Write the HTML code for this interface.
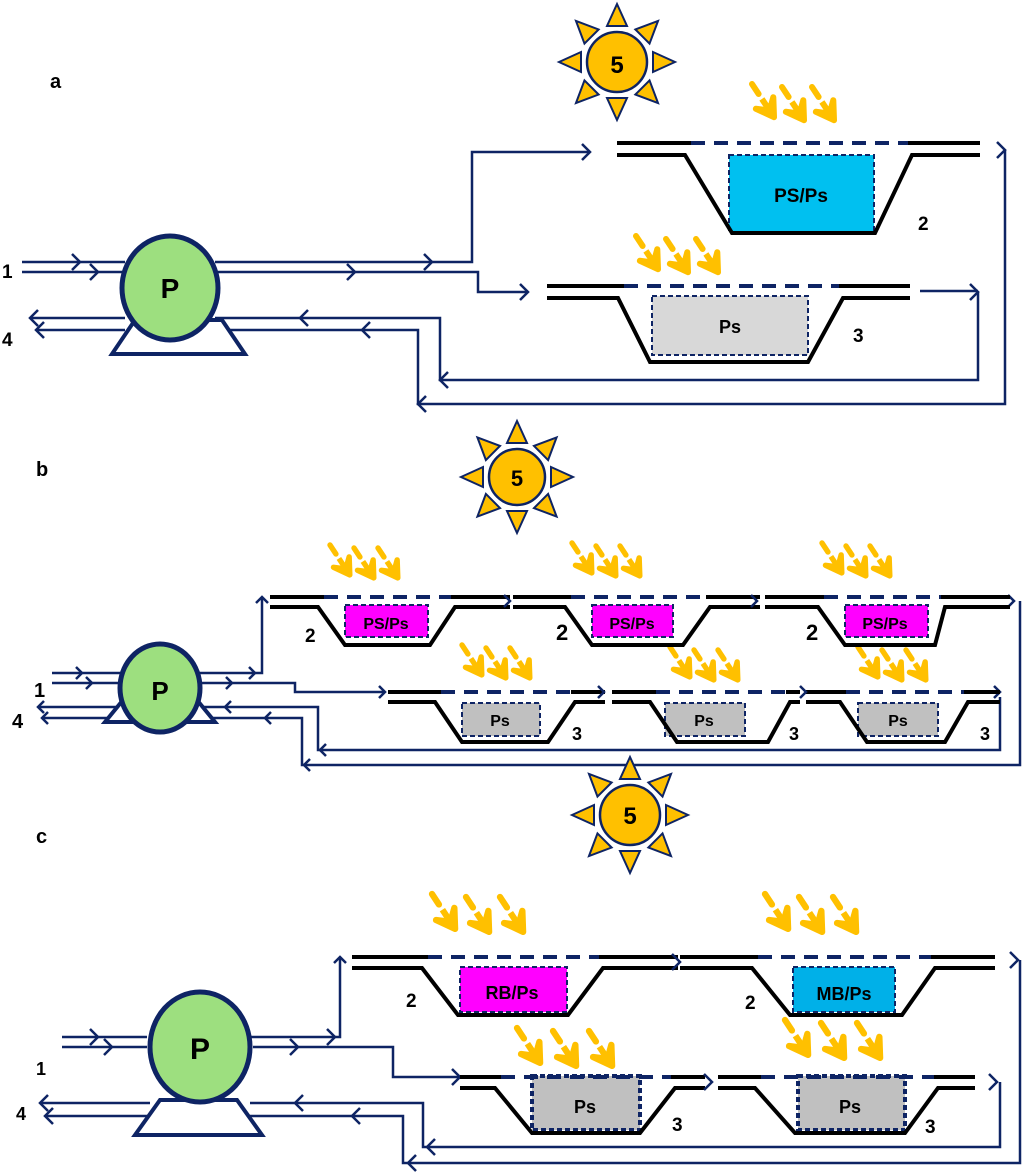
<!DOCTYPE html>
<html><head><meta charset="utf-8"><style>
html,body{margin:0;padding:0;background:#fff}
svg{display:block}
text{font-family:"Liberation Sans",sans-serif;font-weight:bold}
</style></head><body>
<svg id="s" width="1024" height="1175" viewBox="0 0 1024 1175" xmlns="http://www.w3.org/2000/svg">
<g id="g"></g>
<g fill="#000">
<text x="50" y="88" font-size="20">a</text>
<text x="36" y="476" font-size="20">b</text>
<text x="36" y="843" font-size="20">c</text>
<text x="617" y="73" font-size="24" text-anchor="middle">5</text>
<text x="517" y="486" font-size="22" text-anchor="middle">5</text>
<text x="630" y="824" font-size="24" text-anchor="middle">5</text>
<text x="801" y="202" font-size="19" text-anchor="middle">PS/Ps</text>
<text x="730" y="333" font-size="18" text-anchor="middle">Ps</text>
<text x="918" y="230" font-size="19">2</text>
<text x="853" y="342" font-size="19">3</text>
<text x="170" y="298" font-size="28" text-anchor="middle">P</text>
<text x="2" y="278" font-size="19">1</text>
<text x="2" y="346" font-size="19">4</text>
<text x="386" y="629" font-size="16" text-anchor="middle">PS/Ps</text>
<text x="632" y="629" font-size="16" text-anchor="middle">PS/Ps</text>
<text x="885" y="629" font-size="16" text-anchor="middle">PS/Ps</text>
<text x="305" y="642" font-size="19">2</text>
<text x="556" y="640" font-size="22">2</text>
<text x="806" y="640" font-size="22">2</text>
<text x="500" y="726" font-size="16" text-anchor="middle">Ps</text>
<text x="704" y="726" font-size="16" text-anchor="middle">Ps</text>
<text x="898" y="726" font-size="16" text-anchor="middle">Ps</text>
<text x="572" y="740" font-size="18">3</text>
<text x="789" y="740" font-size="18">3</text>
<text x="980" y="740" font-size="18">3</text>
<text x="160" y="700" font-size="26" text-anchor="middle">P</text>
<text x="34" y="697" font-size="20">1</text>
<text x="12" y="728" font-size="20">4</text>
<text x="512" y="999" font-size="18" text-anchor="middle">RB/Ps</text>
<text x="844" y="1000" font-size="18" text-anchor="middle">MB/Ps</text>
<text x="406" y="1007" font-size="19">2</text>
<text x="745" y="1009" font-size="19">2</text>
<text x="585" y="1113" font-size="18" text-anchor="middle">Ps</text>
<text x="850" y="1113" font-size="18" text-anchor="middle">Ps</text>
<text x="672" y="1131" font-size="19">3</text>
<text x="925" y="1133" font-size="19">3</text>
<text x="200" y="1059" font-size="30" text-anchor="middle">P</text>
<text x="36" y="1075" font-size="18">1</text>
<text x="16" y="1120" font-size="18">4</text>
</g>
</svg>
<script>
var N="#0e2464",Y="#ffc000",h="";
function L(p,w){h+='<polyline points="'+p+'" fill="none" stroke="'+N+'" stroke-width="'+(w||2.5)+'"/>';}
function chev(x,y,d,s){s=s||8;var p;
 if(d=="r")p=(x-s)+","+(y-s)+" "+x+","+y+" "+(x-s)+","+(y+s);
 if(d=="l")p=(x+s)+","+(y-s)+" "+x+","+y+" "+(x+s)+","+(y+s);
 if(d=="u")p=(x-s)+","+(y+s)+" "+x+","+y+" "+(x+s)+","+(y+s);
 L(p,2.5);}
function sun(cx,cy,r){var t=r+6,o=r+28,b=10;
 for(var i=0;i<8;i++){var a=i*Math.PI/4,c=Math.cos(a),s=Math.sin(a);
  var p=[(cx+o*c),(cy+o*s),(cx+t*c-b*s),(cy+t*s+b*c),(cx+t*c+b*s),(cy+t*s-b*c)];
  h+='<polygon points="'+p.join(",")+'" fill="'+Y+'" stroke="'+N+'" stroke-width="2"/>';}
 h+='<circle cx="'+cx+'" cy="'+cy+'" r="'+r+'" fill="'+Y+'" stroke="'+N+'" stroke-width="2.5"/>';}
function ray(x,y,sc){var dx=0.55,dy=0.83,l=40*sc,w=6*sc;
 var tx=x+dx*l,ty=y+dy*l;
 h+='<line x1="'+x+'" y1="'+y+'" x2="'+(x+dx*l*0.3)+'" y2="'+(y+dy*l*0.3)+'" stroke="'+Y+'" stroke-width="'+w+'" stroke-linecap="round"/>';
 h+='<line x1="'+(x+dx*l*0.45)+'" y1="'+(y+dy*l*0.45)+'" x2="'+tx+'" y2="'+ty+'" stroke="'+Y+'" stroke-width="'+w+'"/>';
 var a=Math.atan2(dy,dx),al=20*sc;
 var a1=a+Math.PI-0.55,a2=a+Math.PI+0.55;
 var p1=(tx+al*Math.cos(a1))+","+(ty+al*Math.sin(a1)),p2=(tx+al*Math.cos(a2))+","+(ty+al*Math.sin(a2));
 h+='<polygon points="'+p1+' '+tx+','+ty+' '+p2+' '+(tx-dx*8*sc)+','+(ty-dy*8*sc)+'" fill="'+Y+'" stroke="'+Y+'" stroke-width="'+w+'" stroke-linejoin="round"/>';}
function rays(x,y,sc,gap){for(var i=0;i<3;i++)ray(x+i*gap,y+(i==0?0:3),sc);}
function pond(x0,x1,y,gapy,tl,bl,br,tr,by,box,fill,bx0,bx1,boy0,boy1,thickBox){
 var y2=y+gapy;
 h+='<rect x="'+bx0+'" y="'+boy0+'" width="'+(bx1-bx0)+'" height="'+(boy1-boy0)+'" fill="'+fill+'" stroke="'+N+'" stroke-width="'+(thickBox||2)+'" stroke-dasharray="5 3"/>';
 h+='<polyline points="'+x0+','+y2+' '+tl+','+y2+' '+bl+','+by+' '+br+','+by+' '+tr+','+y2+' '+x1+','+y2+'" fill="none" stroke="#000" stroke-width="4"/>';
 h+='<line x1="'+x0+'" y1="'+y+'" x2="'+(tl+6)+'" y2="'+y+'" stroke="#000" stroke-width="4"/>';
 h+='<line x1="'+(tr-4)+'" y1="'+y+'" x2="'+x1+'" y2="'+y+'" stroke="#000" stroke-width="4"/>';
 h+='<line x1="'+(tl+6)+'" y1="'+y+'" x2="'+(tr-4)+'" y2="'+y+'" stroke="'+N+'" stroke-width="4" stroke-dasharray="14 9"/>';}
function pump(cx,cy,rx,ry,bl,br,tl,tr,by,ty){
 h+='<polygon points="'+bl+','+by+' '+br+','+by+' '+tr+','+ty+' '+tl+','+ty+'" fill="#fff" stroke="'+N+'" stroke-width="4"/>';
 h+='<ellipse cx="'+cx+'" cy="'+cy+'" rx="'+rx+'" ry="'+ry+'" fill="#9ddf7f" stroke="'+N+'" stroke-width="5"/>';}
/* panel a */
sun(617,62,30);
rays(752,84,1,30);rays(636,236,1,30);
L("22,262 125,262");L("22,272 125,272");chev(80,262,"r");chev(98,272,"r");
L("215,262 472,262 472,152 590,152");chev(590,152,"r");chev(432,262,"r");
L("215,272 478,272 478,292 528,292");chev(528,292,"r");chev(355,272,"r");
L("215,318 440,318 440,380 978,380 978,292");chev(978,292,"r");L("920,291 978,291");
L("215,330 418,330 418,404 1005,404 1005,150");chev(1005,150,"r");
L("30,318 125,318");L("36,330 125,330");chev(30,318,"l");chev(36,330,"l");chev(300,318,"l");chev(362,330,"l");
chev(440,380,"l");chev(418,404,"l");
pond(617,980,143,12,685,732,875,912,233,1,"#00c0f0",729,874,155,232);
pond(547,910,286,12,618,650,808,843,362,1,"#d8d8d8",652,808,296,355);
pump(170,288,48,52,112,245,135,222,354,320);
/* panel b */
sun(517,477,28);
rays(330,545,0.9,24);rays(572,543,0.9,24);rays(822,543,0.9,24);
rays(462,645,0.9,24);rays(670,647,0.9,24);rays(858,647,0.9,24);
L("52,673 122,673");L("52,683 122,683");chev(82,673,"r",6);chev(92,683,"r",6);
L("198,673 262,673 262,597");chev(262,597,"u",6);chev(255,673,"r",6);
L("198,683 295,683 295,692 385,692");chev(385,692,"r",6);chev(232,683,"r",6);
L("198,707 318,707 318,750 1000,750 1000,697");chev(1000,692,"r",6);
L("198,718 302,718 302,765 1020,765 1020,601");chev(1014,601,"r",6);
L("38,707 122,707");L("42,718 122,718");chev(38,707,"l",6);chev(42,718,"l",6);chev(225,707,"l",6);chev(265,718,"l",6);
chev(320,750,"l",6);chev(304,765,"l",6);
pond(270,510,597,10,318,345,430,455,645,1,"#ff00ff",345,428,605,637);
pond(513,760,597,10,565,592,683,710,645,1,"#ff00ff",592,673,605,637);
pond(765,1010,597,10,818,845,935,945,645,1,"#ff00ff",845,928,605,637);
chev(510,601,"r",6);chev(757,601,"r",6);
pond(388,605,692,10,435,462,548,575,742,1,"#c0c0c0",462,540,703,736);
pond(612,800,692,10,650,677,768,790,742,1,"#c0c0c0",665,745,703,736);
pond(806,1000,692,10,840,867,945,968,742,1,"#c0c0c0",858,938,703,736);
chev(604,692,"r",6);chev(806,692,"r",6);
pump(160,688,40,44,105,215,123,197,722,700);
/* panel c */
sun(630,815,30);
rays(432,894,1.05,34);rays(765,894,1.05,34);rays(517,1028,1.05,36);rays(785,1020,1.05,36);
L("62,1037 147,1037");L("62,1047 147,1047");chev(98,1037,"r");chev(112,1047,"r");
L("248,1037 340,1037 340,957");chev(340,957,"u",6);chev(335,1037,"r");
L("253,1047 393,1047 393,1077 460,1077");chev(460,1077,"r");chev(298,1047,"r");
L("250,1103 423,1103 423,1147 1000,1147 1000,1082");chev(997,1082,"r");
L("250,1116 403,1116 403,1163 1020,1163 1020,960");chev(1018,960,"r");
L("40,1103 150,1103");L("45,1116 150,1116");chev(40,1103,"l");chev(45,1116,"l");chev(295,1103,"l");chev(352,1116,"l");
chev(427,1147,"l");chev(408,1163,"l");
pond(352,678,957,11,422,458,568,603,1015,1,"#ff00ff",460,567,967,1012);
pond(680,995,957,11,752,790,902,935,1015,1,"#00b0e8",793,895,967,1012);
chev(680,962,"r");
pond(460,705,1077,11,495,532,640,675,1133,1,"#c0c0c0",532,640,1076,1130,4);
pond(718,975,1077,11,755,795,905,938,1133,1,"#c0c0c0",798,905,1076,1130,4);
chev(712,1082,"r");
pump(200,1047,50,55,135,262,160,237,1135,1100);
document.getElementById("g").innerHTML=h;
</script>
</body></html>
